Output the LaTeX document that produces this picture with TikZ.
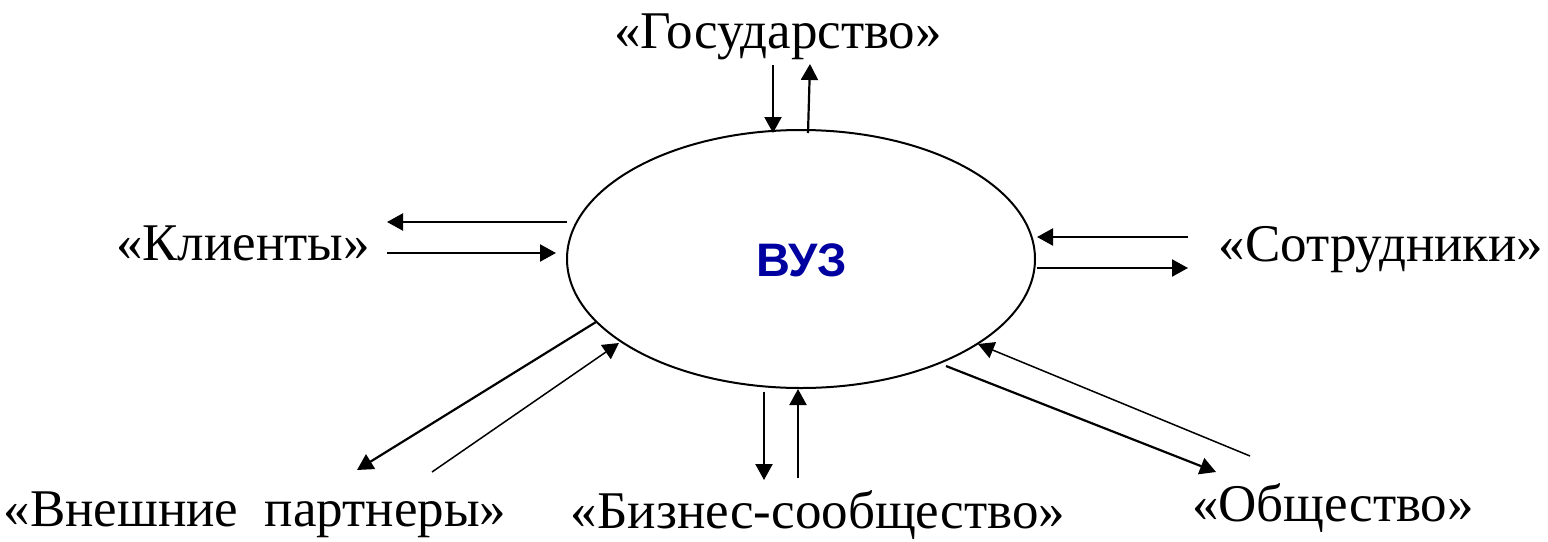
\documentclass[tikz,border=0pt]{standalone}
\usepackage{fontspec}
\setmainfont{Liberation Serif}
\newfontfamily\sansfam{Liberation Sans}
\usetikzlibrary{arrows.meta,shapes.geometric}
\definecolor{vuzblue}{RGB}{0,0,160}
\tikzset{
  lbl/.style={font=\fontsize{26.5}{30}\selectfont, inner sep=0pt},
  conn/.style={line width=1.1pt, -{Triangle[length=8pt,width=8.5pt]}},
  connthin/.style={line width=0.75pt, -{Triangle[length=8pt,width=8.5pt]}}
}
\begin{document}
\begin{tikzpicture}[x=0.5pt,y=-0.5pt]
\useasboundingbox (0,0) rectangle (1548,541);
\node[draw, line width=1pt, ellipse, minimum width=234pt, minimum height=129pt, inner sep=0pt] (vuz) at (801,259) {};
\node[font=\sansfam\bfseries\fontsize{23.5}{26}\selectfont, text=vuzblue] (vuzt) at (802,260) {ВУЗ};
\node[lbl] (gos) at (778,37) {«Государство»};
\node[lbl] (kli) at (243,243) {«Клиенты»};
\node[lbl] (sot) at (1381,250) {«Сотрудники»};
\node[lbl] (vne) at (255,515) {«Внешние\ \ партнеры»};
\node[lbl] (biz) at (818,515) {«Бизнес-сообщество»};
\node[lbl] (obs) at (1333,508) {«Общество»};
% coordinates
\coordinate (g1a) at (773,65);  \coordinate (g1b) at (773,133);
\coordinate (g2a) at (808,133); \coordinate (g2b) at (810,64);
\coordinate (k1a) at (567,222); \coordinate (k1b) at (387,222);
\coordinate (k2a) at (387,253); \coordinate (k2b) at (556,253);
\coordinate (s1a) at (1188,237); \coordinate (s1b) at (1037,237);
\coordinate (s2a) at (1037,268); \coordinate (s2b) at (1188,268);
\coordinate (v1a) at (596,322); \coordinate (v1b) at (357,470);
\coordinate (v2a) at (432,472); \coordinate (v2b) at (619,343);
\coordinate (b1a) at (764,392); \coordinate (b1b) at (764,480);
\coordinate (b2a) at (798,478); \coordinate (b2b) at (798,389);
\coordinate (o1a) at (1250,456); \coordinate (o1b) at (978,344);
\coordinate (o2a) at (946,366); \coordinate (o2b) at (1216,472);
\draw[conn] (g1a) -- (g1b);
\draw[conn] (g2a) -- (g2b);
\draw[conn] (k1a) -- (k1b);
\draw[conn] (k2a) -- (k2b);
\draw[conn] (s1a) -- (s1b);
\draw[conn] (s2a) -- (s2b);
\draw[conn] (v1a) -- (v1b);
\draw[connthin] (v2a) -- (v2b);
\draw[conn] (b1a) -- (b1b);
\draw[conn] (b2a) -- (b2b);
\draw[connthin] (o1a) -- (o1b);
\draw[conn] (o2a) -- (o2b);
\end{tikzpicture}
\end{document}
